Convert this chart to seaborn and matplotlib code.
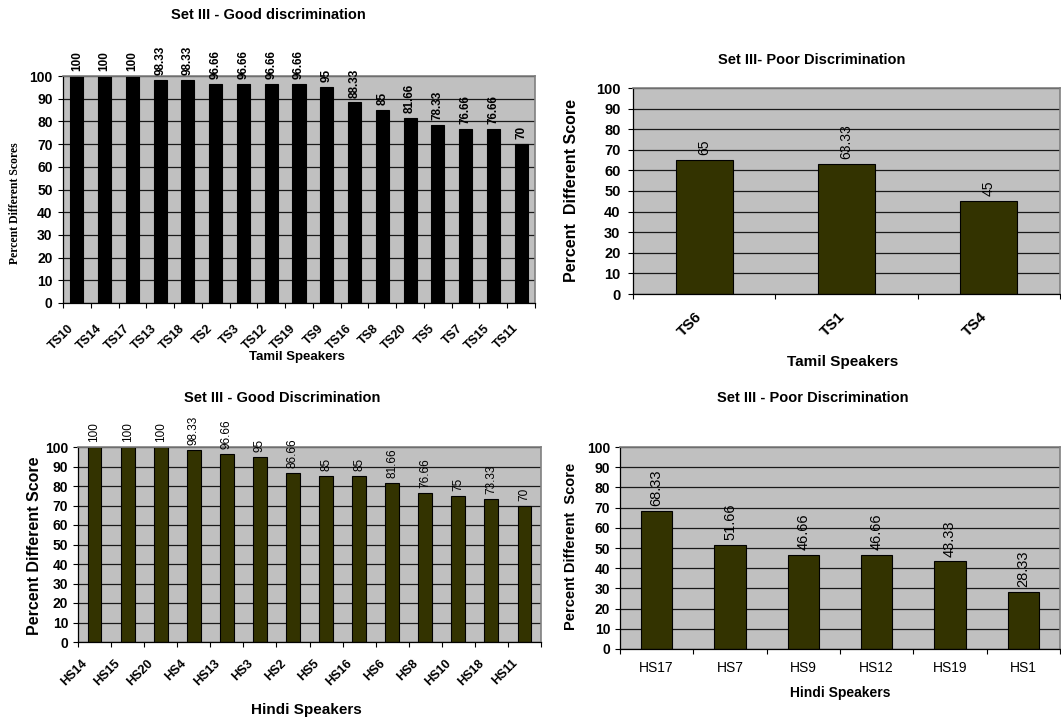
import matplotlib
matplotlib.use("Agg")
import matplotlib.pyplot as plt
import seaborn as sns
from matplotlib.ticker import FixedLocator
from matplotlib.transforms import ScaledTranslation

sns.set_style("ticks")
plt.rcParams["font.family"] = ["Liberation Sans", "DejaVu Sans"]
plt.rcParams.update({"text.color": "black", "axes.labelcolor": "black",
                     "xtick.color": "black", "ytick.color": "black"})

# ---- data -------------------------------------------------------------
tamil_good_speakers = ["TS10", "TS14", "TS17", "TS13", "TS18", "TS2", "TS3", "TS12",
                       "TS19", "TS9", "TS16", "TS8", "TS20", "TS5", "TS7", "TS15", "TS11"]
tamil_good_scores = [100, 100, 100, 98.33, 98.33, 96.66, 96.66, 96.66,
                     96.66, 95, 88.33, 85, 81.66, 78.33, 76.66, 76.66, 70]

tamil_poor_speakers = ["TS6", "TS1", "TS4"]
tamil_poor_scores = [65, 63.33, 45]

hindi_good_speakers = ["HS14", "HS15", "HS20", "HS4", "HS13", "HS3", "HS2",
                       "HS5", "HS16", "HS6", "HS8", "HS10", "HS18", "HS11"]
hindi_good_scores = [100, 100, 100, 98.33, 96.66, 95, 86.66,
                     85, 85, 81.66, 76.66, 75, 73.33, 70]

hindi_poor_speakers = ["HS17", "HS7", "HS9", "HS12", "HS19", "HS1"]
hindi_poor_scores = [68.33, 51.66, 46.66, 46.66, 43.33, 28.33]

y_ticks = [0, 10, 20, 30, 40, 50, 60, 70, 80, 90, 100]

# ---- layout -----------------------------------------------------------
W, H = 1061, 721
fig = plt.figure(figsize=(W / 100, H / 100), dpi=100)
fig.patch.set_facecolor("white")

OLIVE = "#333300"
PLOT_BG = "#c0c0c0"


def px_axes(left, right, top, bottom):
    return fig.add_axes([left / W, 1 - bottom / H, (right - left) / W, (bottom - top) / H])


def fig_xy(x, y):
    return x / W, 1 - y / H


panels = [
    dict(box=(63, 535, 76, 303), cats=tamil_good_speakers, vals=tamil_good_scores,
         color="black", edge="black", width=0.47,
         title="Set III - Good discrimination", title_xy=(268, 15), title_size=10.5,
         ylabel="Percent Different Scores", ylabel_xy=(15, 203), ylabel_size=8.5,
         ylabel_family=["Liberation Serif", "DejaVu Serif"],
         xlabel="Tamil Speakers", xlabel_xy=(297, 357), xlabel_size=9.5,
         ytick_size=10, ytick_pad=4,
         xtick_size=9, xtick_weight="bold", xtick_rot=45, xtick_pad=17, xtick_dx=-5,
         val_size=8.5, val_weight="bold"),
    dict(box=(633, 1060, 88, 294), cats=tamil_poor_speakers, vals=tamil_poor_scores,
         color=OLIVE, edge="black", width=0.40,
         title="Set III- Poor Discrimination", title_xy=(812, 60), title_size=10.5,
         ylabel="Percent  Different Score", ylabel_xy=(571, 190), ylabel_size=11.5,
         ylabel_family=None,
         xlabel="Tamil Speakers", xlabel_xy=(843, 362), xlabel_size=11,
         ytick_size=10.5, ytick_pad=5.5,
         xtick_size=11, xtick_weight="bold", xtick_rot=45, xtick_pad=15, xtick_dx=-4,
         val_size=10, val_weight="normal"),
    dict(box=(78, 541, 447, 642), cats=hindi_good_speakers, vals=hindi_good_scores,
         color=OLIVE, edge="black", width=0.42,
         title="Set III - Good Discrimination", title_xy=(282, 398), title_size=10.5,
         ylabel="Percent Different Score", ylabel_xy=(35, 546), ylabel_size=11.5,
         ylabel_family=None,
         xlabel="Hindi Speakers", xlabel_xy=(306, 710), xlabel_size=11,
         ytick_size=10, ytick_pad=3.5,
         xtick_size=9, xtick_weight="bold", xtick_rot=45, xtick_pad=14, xtick_dx=-9,
         val_size=8.5, val_weight="normal"),
    dict(box=(620, 1060, 447, 649), cats=hindi_poor_speakers, vals=hindi_poor_scores,
         color=OLIVE, edge="black", width=0.43,
         title="Set III - Poor Discrimination", title_xy=(813, 398), title_size=10.5,
         ylabel="Percent Different  Score", ylabel_xy=(571, 546), ylabel_size=10.5,
         ylabel_family=None,
         xlabel="Hindi Speakers", xlabel_xy=(840, 693), xlabel_size=10,
         ytick_size=10, ytick_pad=3.5,
         xtick_size=10, xtick_weight="normal", xtick_rot=0, xtick_pad=13.5, xtick_dx=0,
         val_size=10.5, val_weight="normal"),
]

for p in panels:
    ax = px_axes(*p["box"])
    n = len(p["cats"])

    sns.barplot(x=p["cats"], y=p["vals"], ax=ax, color=p["color"], saturation=1,
                width=p["width"], edgecolor=p["edge"], linewidth=0.8, errorbar=None)

    ax.set_facecolor(PLOT_BG)
    ax.set_xlim(-0.5, n - 0.5)
    ax.set_ylim(0, 100)
    ax.set_axisbelow(True)
    ax.yaxis.grid(True, color="#1a1a1a", linewidth=0.9)
    ax.xaxis.grid(False)

    # frame: dark axis lines on left/bottom, grey border elsewhere
    for side in ("left", "bottom"):
        ax.spines[side].set_color("black")
        ax.spines[side].set_linewidth(0.9)
    for side in ("top", "right"):
        ax.spines[side].set_visible(True)
        ax.spines[side].set_color("#808080")
        ax.spines[side].set_linewidth(1.2)

    # y axis
    ax.set_yticks(y_ticks)
    ax.set_yticklabels([str(t) for t in y_ticks], fontsize=p["ytick_size"], fontweight="bold")
    ax.tick_params(axis="y", direction="out", length=3.5, width=0.8, color="black",
                   pad=p["ytick_pad"])

    # x axis: tick marks between categories, labels under each bar
    ax.xaxis.set_minor_locator(FixedLocator([i - 0.5 for i in range(n + 1)]))
    ax.tick_params(axis="x", which="minor", direction="out", length=3.5, width=0.8,
                   color="black")
    ax.tick_params(axis="x", which="major", length=0, pad=p["xtick_pad"])
    ax.set_xticks(range(n))
    if p["xtick_rot"]:
        ax.set_xticklabels(p["cats"], rotation=p["xtick_rot"], ha="right", va="center",
                           rotation_mode="anchor", fontsize=p["xtick_size"],
                           fontweight=p["xtick_weight"])
        shift = ScaledTranslation(p["xtick_dx"] / 100, 0, fig.dpi_scale_trans)
        for lab in ax.get_xticklabels():
            lab.set_transform(lab.get_transform() + shift)
    else:
        ax.set_xticklabels(p["cats"], fontsize=p["xtick_size"],
                           fontweight=p["xtick_weight"], va="center")

    # value labels above bars
    for cont in ax.containers:
        ax.bar_label(cont, labels=[f"{v:g}" for v in p["vals"]], padding=3.5,
                     rotation=90, fontsize=p["val_size"], fontweight=p["val_weight"],
                     color="black")

    # axis titles
    ylab_kw = dict(fontsize=p["ylabel_size"], fontweight="bold")
    if p["ylabel_family"]:
        ylab_kw["family"] = p["ylabel_family"]
    ax.set_ylabel(p["ylabel"], **ylab_kw)
    ax.yaxis.label.set_verticalalignment("center")
    l, r, t, b = p["box"]
    yx, yy = p["ylabel_xy"]
    ax.yaxis.set_label_coords((yx - l) / (r - l), (b - yy) / (b - t))

    ax.set_xlabel(p["xlabel"], fontsize=p["xlabel_size"], fontweight="bold")
    ax.xaxis.label.set_verticalalignment("center")
    xx, xy = p["xlabel_xy"]
    ax.xaxis.set_label_coords((xx - l) / (r - l), (b - xy) / (b - t))

    fx, fy = fig_xy(*p["title_xy"])
    fig.text(fx, fy, p["title"], ha="center", va="center",
             fontsize=p["title_size"], fontweight="bold")

fig.savefig("out.png", dpi=100, facecolor="white")
